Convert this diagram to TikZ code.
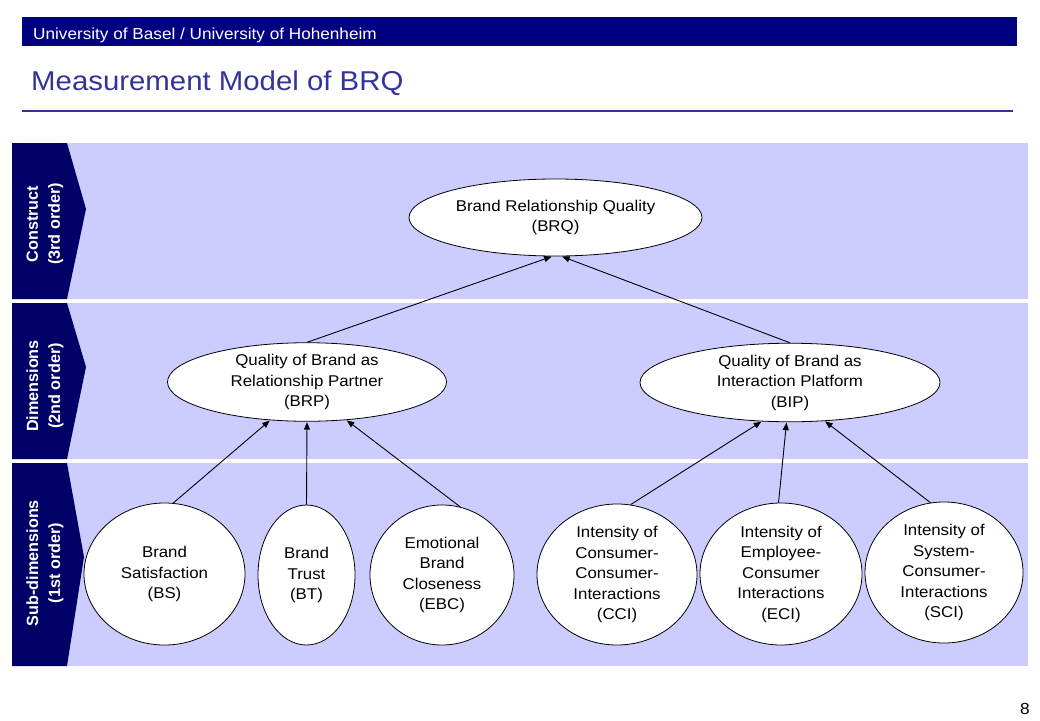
\documentclass[tikz,border=0pt]{standalone}
\usepackage{fontspec}
\setmainfont[FakeStretch=1.08]{Liberation Sans}
\newfontfamily\labfont{Liberation Sans}
\usetikzlibrary{arrows.meta,shapes.geometric}
\definecolor{hdrblue}{RGB}{0,0,128}
\definecolor{labnavy}{RGB}{0,0,102}
\definecolor{titleblue}{RGB}{51,51,153}
\definecolor{bandcol}{RGB}{204,204,255}
\begin{document}
\begin{tikzpicture}[x=1pt,y=-1pt,
  lat/.style={ellipse, draw=black, line width=0.8pt, fill=white, inner sep=0pt,
    align=center, font=\fontsize{15.6}{20.5}\selectfont},
  arr/.style={line width=0.9pt, -{Triangle[length=7.5pt,width=6pt]}, shorten >=0.5pt},
  bandlab/.style={rotate=90, align=center, text=white,
    font=\labfont\bfseries\fontsize{16.2}{22}\selectfont}
]
\useasboundingbox (0,0) rectangle (1040,720);
\fill[white] (0,0) rectangle (1040,720);
% header
\fill[hdrblue] (22,17) rectangle (1017,46);
\node[anchor=base west, text=white, inner sep=0pt, font=\fontsize{15.9}{18}\selectfont] (hdr) at (33,39) {University of Basel / University of Hohenheim};
\node[anchor=base west, text=titleblue, inner sep=0pt, font=\fontsize{27.2}{30}\selectfont] (title) at (31,90) {Measurement Model of BRQ};
\draw[titleblue, line width=2pt] (22,111) -- (1013,111);
% bands
\fill[bandcol] (67,143) rectangle (1028,299);
\fill[bandcol] (67,303) rectangle (1028,459);
\fill[bandcol] (67,463) rectangle (1028,666);
\fill[labnavy] (12,143) -- (67,143) -- (86,209) -- (67,299) -- (12,299) -- cycle;
\fill[labnavy] (12,303) -- (67,303) -- (86,367) -- (67,459) -- (12,459) -- cycle;
\fill[labnavy] (12,463) -- (67,463) -- (84,557) -- (67,666) -- (12,666) -- cycle;
\node[bandlab] (l1) at (45,224) {Construct\\(3rd order)};
\node[bandlab] (l2) at (45,386) {Dimensions\\(2nd order)};
\node[bandlab] (l3) at (45,563) {Sub-dimensions\\(1st order)};
% nodes
\node[lat, minimum width=293pt, minimum height=77pt] (brq) at (555.5,217.5) {Brand Relationship Quality\\(BRQ)};
\node[lat, minimum width=279pt, minimum height=76pt] (brp) at (307,382) {Quality of Brand as\\Relationship Partner\\(BRP)};
\node[lat, minimum width=300pt, minimum height=77pt] (bip) at (790,382.5) {Quality of Brand as\\Interaction Platform\\(BIP)};
\node[lat, minimum width=161pt, minimum height=142pt] (bs) at (164.5,574) {Brand\\Satisfaction\\(BS)};
\node[lat, minimum width=97pt, minimum height=140pt] (bt) at (306.5,575) {Brand\\Trust\\(BT)};
\node[lat, minimum width=144pt, minimum height=140pt] (ebc) at (442,575) {Emotional\\Brand\\Closeness\\(EBC)};
\node[lat, minimum width=160pt, minimum height=141pt] (cci) at (617,574.5) {Intensity of\\Consumer-\\Consumer-\\Interactions\\(CCI)};
\node[lat, minimum width=162pt, minimum height=142pt] (eci) at (781,574) {Intensity of\\Employee-\\Consumer\\Interactions\\(ECI)};
\node[lat, minimum width=158pt, minimum height=141pt] (sci) at (944,572.5) {Intensity of\\System-\\Consumer-\\Interactions\\(SCI)};
% arrows
\draw[arr] (brp.north) -- (brq.265);
\draw[arr] (bip.north) -- (brq.279);
\draw[arr] (bs.83) -- (brp.226);
\draw[arr] (bt.north) -- (brp.south);
\draw[arr] (ebc.75) -- (brp.316);
\draw[arr] (cci.79) -- (bip.234);
\draw[arr] (eci.92) -- (bip.265);
\draw[arr] (sci.101) -- (bip.312);
% page number
\node[anchor=base east, inner sep=0pt, font=\fontsize{16}{18}\selectfont] (pg) at (1030,714) {8};
\end{tikzpicture}
\end{document}
